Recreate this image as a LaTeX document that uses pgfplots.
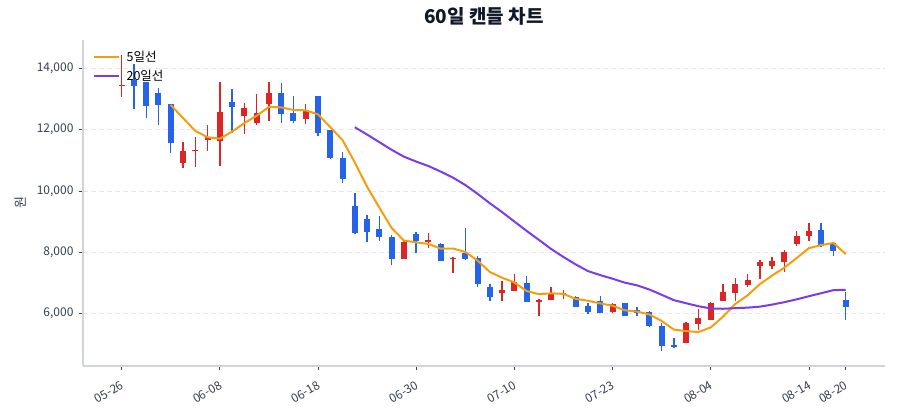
\documentclass[border=0pt]{standalone}
\usepackage{fontspec}
\setmainfont{Noto Sans CJK KR}
\usepackage{pgfplots}
\usepackage{pgfplotstable}
\pgfplotsset{compat=1.18}

\definecolor{upc}{HTML}{DC2626}
\definecolor{downc}{HTML}{2563EB}
\definecolor{ma5c}{HTML}{F59E0B}
\definecolor{ma20c}{HTML}{7C3AED}
\definecolor{spinec}{HTML}{D1D5DB}
\definecolor{gridc}{HTML}{E5E7EB}
\definecolor{tickc}{HTML}{374151}
\definecolor{titlec}{HTML}{111827}

% i open high low close  (red = close above open)
\pgfplotstableread{
i o h l c
0 13420 14438 13077 13450
5 10904 11609 10741 11305
6 11290 11752 10793 11340
7 11650 12154 11305 11750
8 11641 13566 10816 12568
10 12447 12862 11860 12698
11 12209 13165 12170 12535
12 12839 13566 12294 13188
15 12349 12829 12176 12643
23 7781 8360 7781 8326
25 8346 8620 8150 8417
27 7770 7859 7334 7810
31 6662 7063 6411 6770
32 6737 7281 6737 7040
34 6388 6466 5921 6443
35 6443 6877 6443 6682
36 6629 6770 6466 6682
40 6062 6355 6009 6313
46 5050 5716 5050 5683
47 5660 6140 5464 5866
48 5790 6388 5790 6336
49 6411 6965 6411 6714
50 6662 7151 6411 6965
51 6933 7292 6858 7096
52 7563 7749 7129 7693
53 7563 7837 7445 7726
54 7693 8075 7367 8019
55 8271 8695 8205 8532
56 8532 8946 8378 8705
}\upcandles

\pgfplotstableread{
i o h l c
1 13622 14144 12676 13436
2 13557 13557 12392 12783
3 13188 13371 12154 12806
4 12829 12829 11250 11576
9 12914 13318 11900 12731
13 13188 13534 12229 12503
14 12535 13110 12209 12294
16 13110 13110 11804 11883
17 11990 12000 11050 11087
18 11067 11263 10261 10392
19 9501 9935 8581 8646
20 9086 9201 8336 8672
21 8750 9194 8378 8489
22 8499 8564 7585 7771
24 8587 8672 7967 8369
26 8271 8300 7700 7700
28 7977 8802 7750 7771
29 7814 7879 6877 6956
30 6877 6965 6411 6550
33 7008 7226 6368 6368
37 6531 6574 6205 6225
38 6248 6355 5976 6062
39 6421 6584 6009 6009
41 6336 6355 5921 5932
42 6117 6225 5921 6009
43 6062 6085 5573 5595
44 5595 5703 4789 4952
45 4975 5213 4867 4900
57 8727 8966 8163 8205
58 8313 8313 7879 8052
59 6444 6715 5791 6225
}\downcandles

\pgfplotstableread{
i v
4 12810
5 12381
6 11962
7 11755
8 11708
9 11939
10 12217
11 12456
12 12744
13 12731
14 12644
15 12633
16 12502
17 12082
18 11660
19 10930
20 10136
21 9457
22 8794
23 8381
24 8325
25 8274
26 8117
27 8124
28 8013
29 7731
30 7357
31 7171
32 7017
33 6737
34 6634
35 6661
36 6643
37 6480
38 6419
39 6332
40 6258
41 6108
42 6065
43 5972
44 5760
45 5478
46 5428
47 5399
48 5547
49 5900
50 6313
51 6595
52 6961
53 7239
54 7500
55 7813
56 8135
57 8237
58 8303
59 7944
}\maFive

\pgfplotstableread{
i v
19 12081
20 11842
21 11594
22 11344
23 11120
24 10960
25 10815
26 10633
27 10436
28 10196
29 9908
30 9600
31 9312
32 9004
33 8698
34 8405
35 8107
36 7847
37 7604
38 7387
39 7256
40 7138
41 7010
42 6922
43 6785
44 6614
45 6438
46 6338
47 6240
48 6169
49 6157
50 6177
51 6194
52 6226
53 6294
54 6373
55 6465
56 6567
57 6666
58 6765
59 6776
}\maTwenty

\pgfplotsset{
  candle/.style n args={2}{forget plot, draw=none, mark=none,
    error bars/.cd, y dir=plus, y explicit, error mark=none,
    error bar style={draw=#1, line width=#2}},
}

\begin{document}
\begin{tikzpicture}
\begin{axis}[
    at={(83pt,54pt)}, anchor=south west,
    scale only axis, width=802pt, height=326pt,
    xmin=-3.15, xmax=62.2, ymin=4290, ymax=14928,
    axis x line*=bottom, axis y line*=left,
    axis line style={draw=spinec, line width=1.2pt, -},
    tick align=outside, major tick length=4pt,
    tick style={draw=tickc, line width=0.8pt},
    xtick={0,8,16,24,32,40,48,56,59},
    xticklabels={05-26,06-08,06-18,06-30,07-10,07-23,08-04,08-14,08-20},
    ytick={6000,8000,10000,12000,14000},
    scaled y ticks=false,
    tick label style={font=\fontsize{12}{14}\selectfont, color=tickc},
    yticklabel style={xshift=-2pt, /pgf/number format/.cd, fixed, 1000 sep={,}, assume math mode=true},
    xticklabel style={rotate=30, anchor=north east, xshift=-3pt, yshift=-5pt},
    ymajorgrids, major grid style={draw=gridc, dash pattern=on 5pt off 3pt, line width=0.8pt},
    title={60일 캔들 차트},
    title style={font=\fontsize{19}{22}\selectfont\bfseries, color=titlec, at={(0.5,1)}, anchor=center, yshift=18pt},
    ylabel={원},
    ylabel style={font=\fontsize{13}{15}\selectfont, color=tickc, at={(axis description cs:-0.078,0.5)}, anchor=center},
    legend style={at={(0.008,0.978)}, anchor=north west, draw=none, fill=none,
        font=\fontsize{12.5}{14}\selectfont, row sep=3pt},
    legend cell align=left,
    legend image code/.code={\draw[#1, line width=2pt] (0pt,0pt) -- (25pt,0pt); \path (30pt,0pt);},
]
% wicks
\addplot[candle={upc}{1.4pt}]
    table[x=i, y=l, y error expr=\thisrow{h}-\thisrow{l}] {\upcandles};
\addplot[candle={downc}{1.4pt}]
    table[x=i, y=l, y error expr=\thisrow{h}-\thisrow{l}] {\downcandles};
% bodies
\addplot[candle={upc}{6pt}]
    table[x=i, y=o, y error expr=\thisrow{c}-\thisrow{o}] {\upcandles};
\addplot[candle={downc}{6pt}]
    table[x=i, y=c, y error expr=\thisrow{o}-\thisrow{c}] {\downcandles};
% moving averages
\addplot[ma5c, line width=2pt, mark=none] table[x=i, y=v] {\maFive};
\addplot[ma20c, line width=2pt, mark=none] table[x=i, y=v] {\maTwenty};
\legend{5일선, 20일선}
\end{axis}
\pgfresetboundingbox
\path[use as bounding box] (0pt,0pt) rectangle (900pt,420pt);
\end{tikzpicture}
\end{document}
